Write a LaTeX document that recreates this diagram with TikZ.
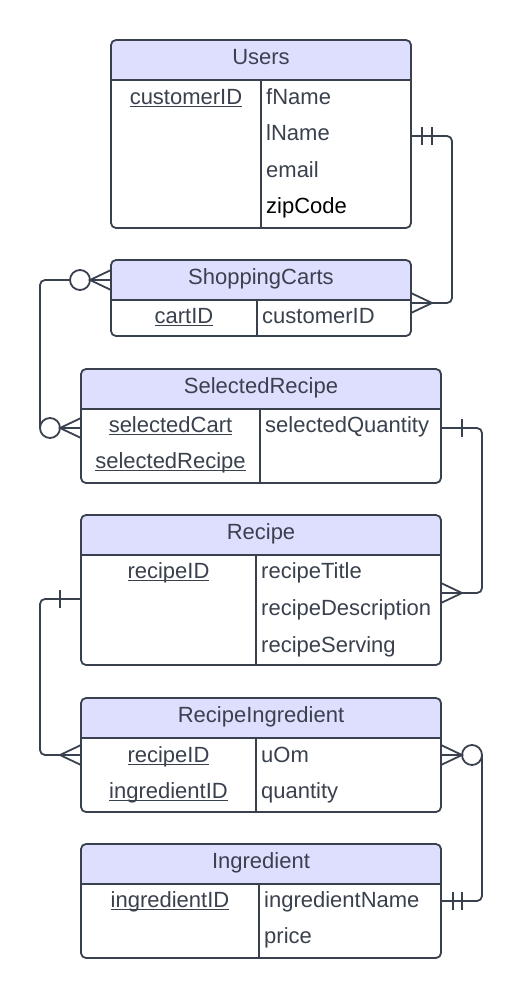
\documentclass[tikz,border=0pt]{standalone}
\usepackage{fontspec}
\setmainfont{Liberation Sans}
\usetikzlibrary{calc}
\definecolor{lc}{RGB}{58,65,78}
\definecolor{hdr}{RGB}{222,223,255}
\newsavebox\keybox
\newcommand{\keyul}[1]{\sbox\keybox{#1}\rlap{\rule[-3pt]{\wd\keybox}{1.3pt}}\usebox\keybox}
\begin{document}
\begin{tikzpicture}[x=1pt,y=-1pt,
  tbl/.style={draw=lc, line width=1.8pt, rounded corners=5pt, fill=white, inner sep=0pt, outer sep=0pt,
    path picture={
      \fill[hdr, sharp corners] (path picture bounding box.north west) rectangle ([yshift=-40pt]path picture bounding box.north east);
      \draw[lc, line width=1.8pt, sharp corners] ([yshift=-40pt]path picture bounding box.north west) -- ([yshift=-40pt]path picture bounding box.north east);
    }},
  div/.style={draw=lc, line width=1.8pt},
  conn/.style={draw=lc, line width=1.8pt},
  ocirc/.style={circle, draw=lc, line width=1.8pt, fill=white, minimum size=20pt, inner sep=0pt, outer sep=0pt},
  ttl/.style={anchor=base, inner sep=0pt, text=lc, font=\fontsize{22}{26}\selectfont},
  keyf/.style={anchor=base, inner sep=0pt, text=lc, font=\fontsize{22}{26}\selectfont},
  fld/.style={anchor=base west, inner sep=0pt, text=lc, font=\fontsize{22}{26}\selectfont}
]
\useasboundingbox (0,0) rectangle (523,998);

% tables
\node[tbl, minimum width=300pt, minimum height=188pt] (users) at (261,134) {};
\node[tbl, minimum width=300pt, minimum height=76pt] (carts) at (261,298) {};
\node[tbl, minimum width=360pt, minimum height=114pt] (selrec) at (261,426) {};
\node[tbl, minimum width=360pt, minimum height=150pt] (recipe) at (261,590) {};
\node[tbl, minimum width=360pt, minimum height=114pt] (recing) at (261,755) {};
\node[tbl, minimum width=360pt, minimum height=114pt] (ingr) at (261,901) {};

% column dividers
\draw[div] (261,80) -- (261,228);
\draw[div] (257,299) -- (257,336);
\draw[div] (260,409) -- (260,483);
\draw[div] (256,555) -- (256,665);
\draw[div] (256,738) -- (256,812);
\draw[div] (259,883) -- (259,958);

% Users
\node[ttl] (users-t) at (261,64) {Users};
\node[keyf] (users-k1) at (186,104) {\keyul{customerID}};
\node[fld] (users-f1) at (266,104) {fName};
\node[fld] (users-f2) at (266,140) {lName};
\node[fld] (users-f3) at (266,177) {email};
\node[fld, text=black] (users-f4) at (266,213) {zipCode};

% ShoppingCarts
\node[ttl] (carts-t) at (261,284) {ShoppingCarts};
\node[keyf] (carts-k1) at (184,323) {\keyul{cartID}};
\node[fld] (carts-f1) at (262,323) {customerID};

% SelectedRecipe
\node[ttl] (selrec-t) at (261,393) {SelectedRecipe};
\node[keyf] (selrec-k1) at (170.5,432) {\keyul{selectedCart}};
\node[keyf] (selrec-k2) at (170.5,468) {\keyul{selectedRecipe}};
\node[fld] (selrec-f1) at (265,432) {selectedQuantity};

% Recipe
\node[ttl] (recipe-t) at (261,539) {Recipe};
\node[keyf] (recipe-k1) at (168.5,578) {\keyul{recipeID}};
\node[fld] (recipe-f1) at (261,578) {recipeTitle};
\node[fld] (recipe-f2) at (261,615) {recipeDescription};
\node[fld] (recipe-f3) at (261,652) {recipeServing};

% RecipeIngredient
\node[ttl] (recing-t) at (261,722) {RecipeIngredient};
\node[keyf] (recing-k1) at (168.5,762) {\keyul{recipeID}};
\node[keyf] (recing-k2) at (168.5,798) {\keyul{ingredientID}};
\node[fld] (recing-f1) at (261,762) {uOm};
\node[fld] (recing-f2) at (261,798) {quantity};

% Ingredient
\node[ttl] (ingr-t) at (261,868) {Ingredient};
\node[keyf] (ingr-k1) at (170,907) {\keyul{ingredientID}};
\node[fld] (ingr-f1) at (264,907) {ingredientName};
\node[fld] (ingr-f2) at (264,943) {price};

% ---- connector 1: Users -- ShoppingCarts
\coordinate (u1) at ($(users.east)+(0,2)$);
\coordinate (c1) at ($(carts.east)+(0,5)$);
\draw[conn, rounded corners=5pt] (u1) -- ++(41,0) |- (c1);
\draw[conn] ($(u1)+(11,-9)$) -- ++(0,18);
\draw[conn] ($(u1)+(21,-9)$) -- ++(0,18);
\draw[conn] ($(c1)+(0,-10)$) -- ($(c1)+(21,0)$) -- ($(c1)+(0,10)$);

% ---- connector 2: ShoppingCarts -- SelectedRecipe
\coordinate (c2) at ($(carts.west)+(0,-18)$);
\coordinate (s1) at ($(selrec.west)+(0,2)$);
\node[ocirc] (o1) at ($(c2)+(-31,0)$) {};
\node[ocirc] (o2) at ($(s1)+(-31,0)$) {};
\draw[conn, rounded corners=5pt] (o1.west) -| (o2.west);
\draw[conn] ($(c2)+(0,-10)$) -- ($(c2)+(-21,0)$) -- ($(c2)+(0,10)$);
\draw[conn] (c2) -- (o1.east);
\draw[conn] ($(s1)+(0,-10)$) -- ($(s1)+(-21,0)$) -- ($(s1)+(0,10)$);
\draw[conn] (s1) -- (o2.east);

% ---- connector 3: SelectedRecipe -- Recipe
\coordinate (s2) at ($(selrec.east)+(0,2)$);
\coordinate (r1) at ($(recipe.east)+(0,3)$);
\draw[conn, rounded corners=5pt] (s2) -- ++(41,0) |- (r1);
\draw[conn] ($(s2)+(21,-9)$) -- ++(0,18);
\draw[conn] ($(r1)+(0,-10)$) -- ($(r1)+(21,0)$) -- ($(r1)+(0,10)$);

% ---- connector 4: Recipe -- RecipeIngredient
\coordinate (r2) at ($(recipe.west)+(0,9)$);
\coordinate (ri1) at (recing.west);
\draw[conn, rounded corners=5pt] (r2) -- ++(-41,0) |- (ri1);
\draw[conn] ($(r2)+(-21,-9)$) -- ++(0,18);
\draw[conn] ($(ri1)+(0,-10)$) -- ($(ri1)+(-21,0)$) -- ($(ri1)+(0,10)$);

% ---- connector 5: RecipeIngredient -- Ingredient
\coordinate (ri2) at (recing.east);
\coordinate (g1) at (ingr.east);
\node[ocirc] (o3) at ($(ri2)+(31,0)$) {};
\draw[conn, rounded corners=5pt] (g1) -- ++(41,0) -- (o3.east);
\draw[conn] ($(ri2)+(0,-10)$) -- ($(ri2)+(21,0)$) -- ($(ri2)+(0,10)$);
\draw[conn] (ri2) -- (o3.west);
\draw[conn] ($(g1)+(12,-9)$) -- ++(0,18);
\draw[conn] ($(g1)+(21,-9)$) -- ++(0,18);
\end{tikzpicture}
\end{document}
